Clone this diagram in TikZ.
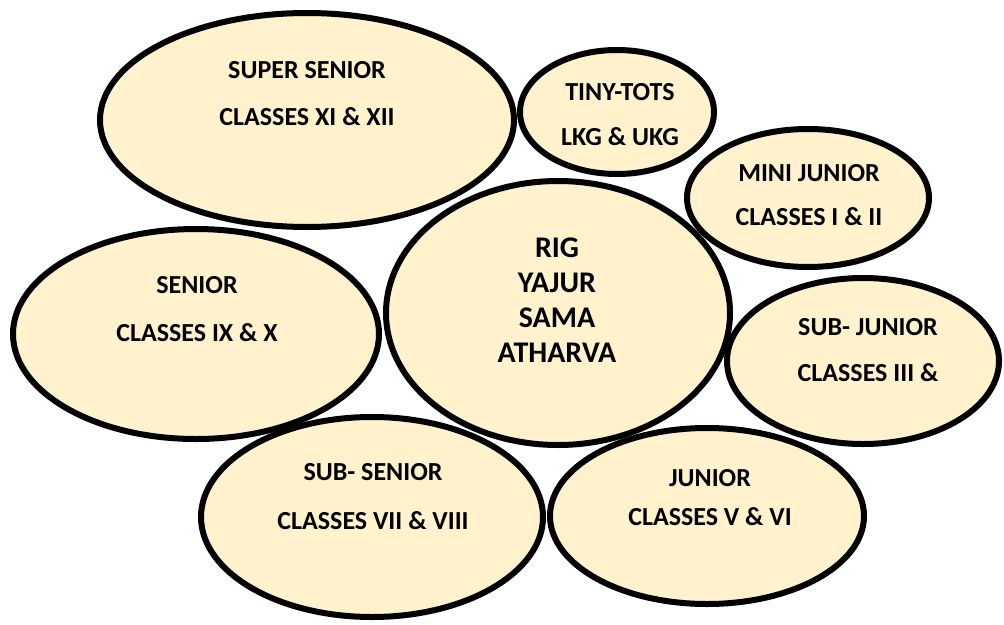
\documentclass[tikz,border=0pt]{standalone}
\usepackage{fontspec}
\setmainfont{Carlito}
\usetikzlibrary{shapes.geometric}
\definecolor{cream}{HTML}{FFF2CC}
\begin{document}
\begin{tikzpicture} [x=1pt,y=-1pt,
	group/.style={shape=ellipse,draw=black,line width=6pt,fill=cream,inner sep=0pt},
	groupText/.style={align=center,font=\bfseries\fontsize{26}{#1}\selectfont}]
	\useasboundingbox (0,0) rectangle (1004,624);
	\node (superNode) at (307,120)[group,minimum width=414pt,minimum height=214pt] {};
	\node (tinyNode) at (617,112)[group,minimum width=194pt,minimum height=124pt] {};
	\node (miniNode) at (808,198)[group,minimum width=242pt,minimum height=138pt] {};
	\node (seniorNode) at (196,334)[group,minimum width=366pt,minimum height=210pt] {};
	\node (subJuniorNode) at (863,361)[group,minimum width=272pt,minimum height=166pt] {};
	\node (vedaNode) at (558,313)[group,minimum width=344pt,minimum height=264pt] {};
	\node (subSeniorNode) at (372,517)[group,minimum width=342pt,minimum height=200pt] {};
	\node (juniorNode) at (707,516)[group,minimum width=314pt,minimum height=176pt] {};

	\node (superText) at (307,93.5)[groupText=47pt] {SUPER SENIOR\\CLASSES XI \& XII};
	\node (tinyText) at (620,114.5)[groupText=45pt] {TINY-TOTS\\LKG \& UKG};
	\node (miniText) at (809,195)[groupText=44pt] {MINI JUNIOR\\CLASSES I \& II};
	\node (seniorText) at (197,309)[groupText=48pt] {SENIOR\\CLASSES IX \& X};
	\node (subJuniorText) at (868,350)[groupText=46pt] {SUB- JUNIOR\\CLASSES III \&};
	\node (vedaText) at (557,300)[groupText=35pt,font=\bfseries\fontsize{30}{35}\selectfont] {RIG\\YAJUR\\SAMA\\ATHARVA};
	\node (subSeniorText) at (373,496.5)[groupText=49pt] {SUB- SENIOR\\CLASSES VII \& VIII};
	\node (juniorText) at (710,497.5)[groupText=39pt] {JUNIOR\\CLASSES V \& VI};
\end{tikzpicture}
\end{document}
